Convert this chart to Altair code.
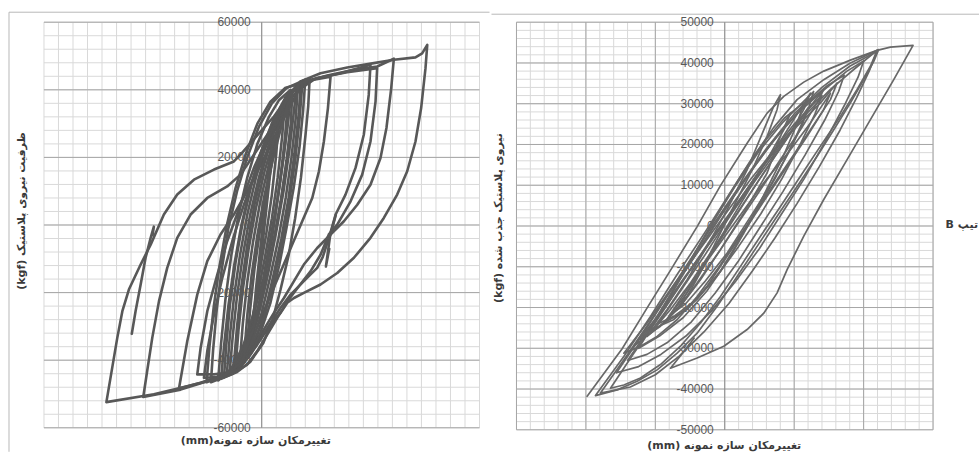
import altair as alt
import pandas as pd

# ---------------- text ----------------
RLE, PDF = "\u202b", "\u202c"
LEFT_Y_TITLE = "ظرفیت نیروی پلاستیک (kgf)"
LEFT_X_TITLE = "تغییرمکان سازه نمونه(mm)"
RIGHT_Y_TITLE = "نیروی پلاستیک جذب شده (kgf)"
RIGHT_X_TITLE = "تغییرمکان سازه نمونه  (mm)"
SIDE_LABEL = "تیپ B"

# ---------------- axis ticks ----------------
LEFT_Y_LABELS = [-60000, -40000, -20000, 0, 20000, 40000, 60000]
LEFT_Y_MINOR = list(range(-60000, 60001, 4000))
LEFT_X_MINOR = list(range(-150, 151, 10))

RIGHT_Y_LABELS = [-50000, -40000, -30000, -20000, -10000, 0, 10000, 20000, 30000, 40000, 50000]
RIGHT_Y_MINOR = list(range(-50000, 50001, 2000))
RIGHT_X_MINOR = list(range(-150, 151, 10))
RIGHT_X_MAJOR = [-150, -100, -50, 50, 100, 150]

# ---------------- left specimen: hysteresis loops (displacement, kgf) ----------------
L_OUTER = [(-107, -52400), (-99.5, -33400), (-96, -25500), (-91.5, -19100), (-83.4, -11700), (-76.5, -5800),
           (-67.4, 3100), (-58.2, 9000), (-46.7, 13400), (-32.9, 16400), (-19.2, 18800), (-14.6, 20800),
           (-8.8, 23700), (-0.7, 27700), (8.4, 32100), (17.6, 37500), (26.7, 42500), (40.5, 44900),
           (58.9, 46600), (77.2, 47900), (91, 48900), (105.9, 49600), (110.5, 50800), (114, 53300),
           (112.8, 46400), (109.8, 34600), (105.9, 24700), (100.2, 15900), (93.3, 9000), (84.1, 2100),
           (74.9, -3800), (63.5, -9700), (52, -14200), (40.5, -17600), (29, -20100), (22.2, -21600),
           (17.6, -23000), (13, -26000), (6.1, -29500), (1.5, -32400), (-3.1, -35400), (-8.8, -38800),
           (-14.6, -41800), (-21.5, -43700), (-32.9, -45700), (-51.3, -47700), (-74.3, -50100), (-107, -52400)]
L_2 = [(-81.6, -50900), (-78.9, -43200), (-75.4, -33400), (-70.8, -22600), (-65.1, -12700), (-58.2, -3800),
       (-49, 3100), (-37.5, 8000), (-23.8, 11400), (-14.6, 14900), (-5.4, 20800), (3.8, 26700), (13, 32600),
       (22.2, 38500), (31.3, 42500), (45.1, 44200), (63.5, 45900), (79.5, 46900), (91, 49200),
       (89.2, 40500), (85.9, 28700), (81.8, 19800), (74.9, 11900), (65.8, 6000), (56.6, 1100), (47.4, -2800),
       (38.2, -6800), (29, -11700), (22.2, -16600), (15.3, -21600), (8.4, -26000), (1.5, -30900),
       (-5.4, -36400), (-12.3, -40800), (-21.5, -43200), (-37.5, -46200), (-55.9, -48700), (-81.6, -50900)]
L_3 = [(-57, -48400), (-51.3, -34400), (-44.4, -20600), (-37.5, -10700), (-28.4, -2800), (-19.2, 3100),
       (-10, 10000), (-0.7, 17800), (8.4, 25700), (17.6, 33600), (25.6, 40000), (35.9, 43000), (47.4, 43900),
       (45.6, 34600), (42.8, 24700), (39.4, 15900), (34.8, 8000), (27.9, 1100), (21, -5800), (14.1, -12700),
       (7.2, -19600), (1.5, -25500), (-4.2, -31400), (-10, -37300), (-16.9, -41800), (-28.4, -44700),
       (-42.1, -46700), (-57, -48400)]
L_4 = [(-39.8, -45200), (-37.5, -37300), (-32.9, -26500), (-27.2, -15700), (-20.3, -4800), (-12.3, 6000),
       (-3.1, 16900), (6.1, 26700), (15.3, 35600), (24.4, 41000), (38.2, 43500), (58.9, 45200), (79.5, 46400),
       (78.4, 36600), (74.9, 24700), (69.2, 14900), (61.2, 7000), (52, 100), (46.2, -2800), (40.5, -8800),
       (33.6, -13700), (25.6, -18100), (17.6, -22600), (10.7, -27500), (3.8, -32400), (-3.1, -37300),
       (-10, -41300), (-19.2, -43700), (-30.6, -45000), (-39.8, -45200)]
L_5 = [(-44.4, -44200), (-42.1, -36400), (-37.5, -25500), (-30.6, -14700), (-23.8, -4800), (-14.6, 6000),
       (-5.4, 16900), (3.8, 25700), (13, 33600), (22.2, 40000), (33.6, 43000), (54.3, 44900), (74.9, 47400),
       (73.7, 38500), (70.3, 26700), (64.6, 16900), (57.7, 9000), (50.9, 3100), (46.3, -3800), (42, -9500),
       (38.2, -12700), (29, -16600), (19.9, -20600), (13, -24500), (6.1, -29000), (-0.7, -33400),
       (-7.7, -38300), (-14.6, -41800), (-23.8, -43700), (-32.9, -44200), (-44.4, -44200)]
L_HOOK_LEFT = [(-89.5, -32200), (-86.9, -25500), (-83.4, -17600), (-80, -9700), (-76.5, -3800), (-74.3, -500),
               (-75.2, -3000)]
L_HOOK_RIGHT = [(51, 3000), (47, -3500), (44.2, -12300), (46.5, -7000)]
C_1 = [(-19.2, -41300), (-17, -30000), (-14, -18000), (-10, -6000), (-5, 6000), (1, 17000), (8, 27000),
       (14, 33500), (19.9, 38500), (18, 30000), (15, 20000), (11, 8000), (7, -4000), (2, -16000),
       (-4, -27000), (-11, -36000), (-19.2, -41300)]
C_2 = [(-22, -43000), (-20, -33000), (-17, -21000), (-13, -9000), (-8, 3000), (-2, 14000), (5, 24000),
       (13, 33000), (19, 38000), (24, 41000), (22, 33000), (19, 22000), (15, 10000), (10, -2000),
       (5, -13000), (-1, -24000), (-8, -34000), (-15, -40000), (-22, -43000)]
C_3 = [(-15, -40000), (-13, -29000), (-10, -17000), (-6, -5000), (-1, 7000), (5, 18000), (11, 28000),
       (16, 36000), (14, 26000), (11, 14000), (7, 2000), (2, -10000), (-3, -21000), (-9, -32000), (-15, -40000)]
C_4 = [(-26, -45000), (-24.5, -36000), (-22, -24000), (-18, -11000), (-13, 1000), (-7, 12000), (0, 22000),
       (8, 31000), (16, 37500), (27, 42500), (25.5, 33000), (22.5, 21000), (18.5, 8000), (13.5, -4000),
       (8, -15000), (2, -26000), (-5, -35000), (-14, -41500), (-26, -45000)]
C_5 = [(-10, -36000), (-8, -25000), (-5, -13000), (-1, -1000), (4, 11000), (9, 23000), (12, 33000),
       (10, 21000), (7, 9000), (3, -3000), (-2, -15000), (-6, -27000), (-10, -36000)]
C_6 = [(-30, -46000), (-28, -35000), (-25, -22000), (-21, -9000), (-16, 3000), (-10, 14000), (-3, 24000),
       (5, 32000), (12, 37000), (20, 40000), (18, 31000), (15, 20000), (11, 8000), (6, -4000), (1, -16000),
       (-6, -27000), (-13, -36000), (-21, -42500), (-30, -46000)]
C_7 = [(-35, -46500), (-33.5, -37000), (-31, -25000), (-27.5, -13000), (-23, -1000), (-17, 10000),
       (-10, 20000), (-2, 29000), (7, 36000), (17, 40500), (30, 43000), (28.5, 34000), (26, 23000),
       (22, 11000), (17, -1000), (12, -12000), (6, -23000), (-1, -32000), (-9, -39000), (-20, -44000),
       (-35, -46500)]
C_8 = [(-6, -30000), (-4, -19000), (-1, -7000), (2, 5000), (5, 17000), (8, 28000), (6, 16000), (3, 4000),
       (0, -8000), (-3, -20000), (-6, -30000)]
C_9 = [(-38, -46500), (-36, -36000), (-33, -24000), (-29, -12000), (-24, 0), (-18, 11000), (-11, 21000),
       (-3, 30000), (6, 36500), (16, 40500), (28, 42000), (26, 31000), (23, 19000), (19, 7000), (14, -5000),
       (8, -17000), (1, -28000), (-8, -37000), (-20, -43500), (-38, -46500)]
C_10 = [(-28, -45500), (-26, -36000), (-23, -24000), (-19, -12000), (-14, 0), (-8, 11000), (-1, 21000),
        (7, 30000), (16, 37000), (25, 41500), (33, 43300), (32, 35000), (30, 26000), (27, 14000),
        (23, 2000), (18.5, -9000), (13, -19000), (7.5, -28000), (1, -35000), (-8, -40500), (-17, -43500),
        (-28, -45500)]
C_11 = [(-18, -42000), (-16, -31000), (-13, -19000), (-9, -7000), (-4, 5000), (2, 16000), (9, 26000),
        (15, 33000), (21, 38500), (20, 30000), (17, 19000), (13, 7000), (8, -5000), (3, -17000),
        (-3, -28000), (-10, -37000), (-18, -42000)]
C_12 = [(-24, -44000), (-22, -33000), (-19, -21000), (-15, -9000), (-10, 3000), (-4, 14000), (3, 24000),
        (11, 32000), (18, 37500), (25, 41500), (23.5, 32000), (20.5, 20000), (16.5, 8000), (11.5, -4000),
        (6, -15000), (0, -26000), (-7, -35000), (-15, -41000), (-24, -44000)]
C_13 = [(-12, -38000), (-10, -27000), (-7, -15000), (-3, -3000), (2, 9000), (8, 20000), (14, 30000),
        (18, 36000), (16, 26000), (13, 14000), (9, 2000), (4, -10000), (-1, -22000), (-6, -31000), (-12, -38000)]

# ---------------- right specimen: hysteresis loops (displacement, kgf) ----------------
R_1 = [(-99.1, -41800), (-73.9, -30100), (-55.9, -20100), (-37.9, -10200), (-19.9, -150), (-3.1, 9900),
       (16.1, 20300), (30.5, 27700), (42.5, 31800), (56.9, 35300), (71.3, 38000), (90.5, 40700),
       (109.7, 43100), (119.3, 43900), (135.6, 44300), (121.7, 35900), (104.9, 26100), (88.1, 16300),
       (71.3, 6500), (56.9, -2500), (44.9, -10700), (37.7, -16400), (28.1, -21400), (16.1, -25400),
       (-0.7, -29500), (-19.9, -32400), (-39.1, -34900), (-30, -31000), (-22, -27500)]
R_2 = [(-93.1, -41600), (-72.7, -32000), (-53.5, -22200), (-34.3, -11900), (-15.1, -2000), (1.7, 7000),
       (18.5, 16000), (35.3, 24200), (52.1, 31000), (71.3, 35900), (90.5, 40000), (110.9, 43300),
       (107.3, 40400), (100.1, 35900), (90.5, 30200), (78.5, 23600), (66.5, 17100), (52.1, 9700),
       (37.7, 2400), (23.3, -5000), (8.9, -12400), (-5.5, -19700), (-19.9, -26300), (-34.3, -31200),
       (-48.7, -35300), (-63.1, -38100), (-77.5, -40200), (-93.1, -41600)]
R_3 = [(-82.3, -39800), (-65.5, -31200), (-48.7, -23000), (-29.5, -13200), (-10.3, -3400), (8.9, 5600),
       (25.7, 13800), (42.5, 21200), (59.3, 27700), (76.1, 33500), (92.9, 38400), (109.7, 43100),
       (104.9, 39200), (95.3, 33500), (83.3, 26900), (68.9, 19600), (54.5, 12200), (40.1, 4800),
       (25.7, -2500), (11.3, -9900), (-3.1, -17300), (-17.5, -23800), (-31.9, -29500), (-46.3, -34000),
       (-60.7, -37300), (-72.7, -39000), (-82.3, -39800)]
R_4 = [(-72.7, -31200), (-55.9, -23800), (-39.1, -15600), (-19.9, -6600), (-0.7, 2400), (18.5, 11400),
       (37.7, 19600), (54.5, 25300), (68.9, 30200), (80.9, 35100), (76.1, 31000), (66.5, 26100),
       (52.1, 18700), (37.7, 11400), (23.3, 4000), (8.9, -3400), (-5.5, -10700), (-19.9, -17300),
       (-34.3, -23000), (-48.7, -27100), (-60.7, -29500), (-72.7, -31200)]
R_5 = [(-65.5, -29500), (-48.7, -22200), (-31.9, -14000), (-12.7, -5000), (4.1, 3200), (20.9, 11400),
       (37.7, 19600), (49.7, 26100), (61.7, 32600), (56.9, 28600), (47.3, 22800), (32.9, 15500),
       (18.5, 8100), (4.1, 700), (-10.3, -6600), (-24.7, -14000), (-39.1, -20500), (-53.5, -26300),
       (-65.5, -29500)]
R_6 = [(-55.9, -27100), (-41.5, -20500), (-27.1, -13200), (-12.7, -5000), (1.7, 4000), (16.1, 13800),
       (28.1, 23600), (35.3, 29400), (40.1, 32200), (37.7, 28600), (30.5, 22000), (20.9, 14600),
       (8.9, 6500), (-3.1, -1700), (-15.1, -9900), (-27.1, -17300), (-41.5, -23000), (-55.9, -27100)]
R_7 = [(-43.9, -23800), (-27.1, -16400), (-10.3, -7400), (8.9, 1600), (28.1, 10600), (47.3, 18700),
       (61.7, 25300), (76.1, 32600), (71.3, 28600), (59.3, 22000), (44.9, 14600), (30.5, 7300),
       (16.1, -100), (1.7, -7400), (-12.7, -14800), (-27.1, -20500), (-43.9, -23800)]
R_8 = [(-60.7, -27900), (-43.9, -20500), (-24.7, -10700), (-5.5, -1700), (13.7, 7300), (32.9, 16300),
       (52.1, 25300), (71.3, 33500), (66.5, 30200), (54.5, 23600), (40.1, 16300), (25.7, 8900),
       (11.3, 1600), (-3.1, -5800), (-17.5, -13200), (-31.9, -19700), (-46.3, -24600), (-60.7, -27900)]
R_9 = [(-34.3, -20500), (-19.9, -14000), (-3.1, -5800), (13.7, 3200), (30.5, 13000), (40.1, 22000),
       (47.3, 27700), (42.5, 23600), (30.5, 16300), (16.1, 8100), (1.7, -100), (-12.7, -8300),
       (-24.7, -14800), (-34.3, -20500)]
R_10 = [(-53.5, -25500), (-38, -16500), (-22, -7000), (-5, 3000), (12, 12500), (28, 20500), (43, 26500),
        (56.9, 30200), (52, 25000), (42, 17000), (28, 7500), (13, -2000), (-3, -11000), (-20, -18000),
        (-37, -23000), (-53.5, -25500)]
R_11 = [(-62, -30000), (-47, -21500), (-30, -11500), (-12, -1000), (7, 9500), (25, 18500), (42, 25500),
        (55, 30000), (64, 33000), (60, 28500), (50, 21000), (36, 11500), (20, 2000), (4, -7500),
        (-13, -16000), (-30, -22500), (-47, -27000), (-62, -30000)]
R_12 = [(-89.5, -41000), (-70, -31500), (-50, -21500), (-30, -11000), (-10, -500), (10, 9500), (30, 19000),
        (50, 27500), (70, 34000), (90, 39200), (109.7, 42900), (104, 38000), (95, 31500), (83, 23500),
        (68, 14500), (52, 5500), (36, -3000), (20, -11000), (3, -19000), (-15, -26000), (-33, -32000),
        (-50, -36500), (-68, -39500), (-89.5, -41000)]
R_13 = [(-78, -36000), (-60, -27000), (-42, -17500), (-22, -7500), (-3, 2500), (16, 12000), (34, 20500),
        (52, 27500), (70, 33000), (88, 38000), (100, 40500), (96, 36500), (86, 29500), (72, 20500),
        (57, 11500), (41, 3000), (25, -5500), (8, -13500), (-10, -21000), (-28, -27000), (-46, -31500),
        (-62, -34500), (-78, -36000)]
R_14 = [(-48, -24000), (-32, -16000), (-15, -7500), (2, 1500), (19, 10500), (35, 18500), (50, 25000),
        (64, 30000), (70, 32000), (65, 27500), (55, 20500), (41, 11500), (26, 3000), (10, -5000),
        (-6, -12500), (-22, -18500), (-36, -22000), (-48, -24000)]
R_15 = [(-40, -22000), (-25, -14500), (-8, -6000), (9, 3000), (25, 11500), (40, 19000), (52, 25000),
        (60, 29000), (56, 25000), (46, 18000), (33, 10000), (18, 2000), (2, -6500), (-14, -13500),
        (-28, -19000), (-40, -22000)]
R_16 = [(-70, -33000), (-53, -24500), (-35, -14500), (-16, -4500), (3, 5500), (22, 15000), (40, 23000),
        (57, 29500), (74, 34500), (86, 37000), (82, 33000), (72, 26000), (58, 17500), (42, 8500), (26, 0),
        (10, -8500), (-7, -16500), (-24, -23500), (-41, -28500), (-56, -31500), (-70, -33000)]

LEFT_LOOPS = [L_OUTER, L_2, L_3, L_4, L_5, L_HOOK_LEFT, L_HOOK_RIGHT,
              C_1, C_2, C_3, C_4, C_5, C_6, C_7, C_8, C_9, C_10, C_11, C_12, C_13]
RIGHT_LOOPS = [R_1, R_2, R_3, R_4, R_5, R_6, R_7, R_8, R_9, R_10, R_11, R_12, R_13, R_14, R_15, R_16]

# ---------------- styling ----------------
LABEL_FONT = "Liberation Sans"
TITLE_FONT = "DejaVu Sans"
MINOR = "#d9d9d9"
MAJOR = "#a6a6a6"
AXIS = "#868686"
FRAME = "#b8b8b8"
TEXT = "#595959"


def loops_frame(loops):
    rows = []
    for k, pts in enumerate(loops):
        for i, (x, y) in enumerate(pts):
            rows.append({"loop": k, "i": i, "x": x, "y": y})
    return pd.DataFrame(rows)


def one_row():
    return pd.DataFrame({"k": [0]})


def panel(loops, y_dom, y_minor, y_labels, y_major_step, x_minor, x_major,
          w, h, line_color, line_width, y_title, x_title, titles_pos, frame_pos, extra=None):
    xs = alt.Scale(domain=[-150, 150], nice=False, zero=False)
    ys = alt.Scale(domain=y_dom, nice=False, zero=False)

    vgrid = alt.Chart(pd.DataFrame({"v": x_minor})).mark_rule(color=MINOR, strokeWidth=1).encode(
        x=alt.X("v:Q", scale=xs, axis=None))
    hgrid = alt.Chart(pd.DataFrame({"v": y_minor})).mark_rule(color=MINOR, strokeWidth=1).encode(
        y=alt.Y("v:Q", scale=ys, axis=None))
    y_major = [v for v in y_minor if v % y_major_step == 0]
    hmajor = alt.Chart(pd.DataFrame({"v": y_major})).mark_rule(color=MAJOR, strokeWidth=1).encode(
        y=alt.Y("v:Q", scale=ys, axis=None))
    layers = [vgrid, hgrid, hmajor]
    if x_major:
        layers.append(alt.Chart(pd.DataFrame({"v": x_major})).mark_rule(color=MAJOR, strokeWidth=1).encode(
            x=alt.X("v:Q", scale=xs, axis=None)))
    axis_line = alt.Chart(pd.DataFrame({"v": [0]})).mark_rule(color=AXIS, strokeWidth=1).encode(
        x=alt.X("v:Q", scale=xs, axis=None))
    layers.append(axis_line)

    labels = alt.Chart(pd.DataFrame({"v": y_labels, "x0": [0] * len(y_labels),
                                     "lab": [str(v) for v in y_labels]})).mark_text(
        align="right", baseline="middle", dx=-11, font=LABEL_FONT, fontSize=12, color=TEXT).encode(
        x=alt.X("x0:Q", scale=xs, axis=None), y=alt.Y("v:Q", scale=ys, axis=None), text="lab:N")
    layers.append(labels)

    curves = alt.Chart(loops_frame(loops)).mark_line(
        color=line_color, strokeWidth=line_width, strokeJoin="round", strokeCap="round").encode(
        x=alt.X("x:Q", scale=xs, axis=None), y=alt.Y("y:Q", scale=ys, axis=None),
        detail="loop:N", order="i:Q")
    layers.append(curves)

    (ytx, yty), (xtx, xty) = titles_pos
    ytitle = alt.Chart(one_row()).mark_text(
        angle=270, align="center", baseline="middle", font=TITLE_FONT, fontSize=11,
        fontWeight="bold", color="#3a3a3a").encode(
        x=alt.value(ytx), y=alt.value(yty), text=alt.value(RLE + y_title + PDF))
    xtitle = alt.Chart(one_row()).mark_text(
        align="center", baseline="middle", font=TITLE_FONT, fontSize=11,
        fontWeight="bold", color="#3a3a3a").encode(
        x=alt.value(xtx), y=alt.value(xty), text=alt.value(RLE + x_title + PDF))
    layers += [ytitle, xtitle]

    fx1, fx2, fy, fy2 = frame_pos
    layers.append(alt.Chart(one_row()).mark_rule(color=FRAME, strokeWidth=1).encode(
        x=alt.value(fx1), x2=alt.value(fx2), y=alt.value(fy)))
    if fy2 is not None:
        layers.append(alt.Chart(one_row()).mark_rule(color=FRAME, strokeWidth=1).encode(
            x=alt.value(fx1), y=alt.value(fy), y2=alt.value(fy2)))
    if extra is not None:
        layers.append(extra)

    return alt.layer(*layers).properties(width=w, height=h)


left = panel(LEFT_LOOPS, [-60000, 60000], LEFT_Y_MINOR, LEFT_Y_LABELS, 20000, LEFT_X_MINOR, None,
             436, 406, "#585858", 2.6, LEFT_Y_TITLE, LEFT_X_TITLE,
             ((-22, 189), (212, 419)), (-35, 446, -10, 430))

side = alt.Chart(one_row()).mark_text(
    align="right", baseline="middle", font=TITLE_FONT, fontSize=11, fontWeight="bold",
    color="#3a3a3a").encode(x=alt.value(462), y=alt.value(203), text=alt.value(RLE + SIDE_LABEL + PDF))

right = panel(RIGHT_LOOPS, [-50000, 50000], RIGHT_Y_MINOR, RIGHT_Y_LABELS, 10000, RIGHT_X_MINOR,
              RIGHT_X_MAJOR, 417, 408, "#686868", 1.7, RIGHT_Y_TITLE, RIGHT_X_TITLE,
              ((-17, 196), (208, 424)), (-25, 463, -8, None), extra=side)

chart = alt.hconcat(left, right, spacing=0).resolve_scale(
    x="independent", y="independent").properties(
    padding={"left": 8, "top": 11, "right": 0, "bottom": 0}).configure_view(stroke=None)

chart.save("out.html", embed_options={"renderer": "svg", "actions": False})
